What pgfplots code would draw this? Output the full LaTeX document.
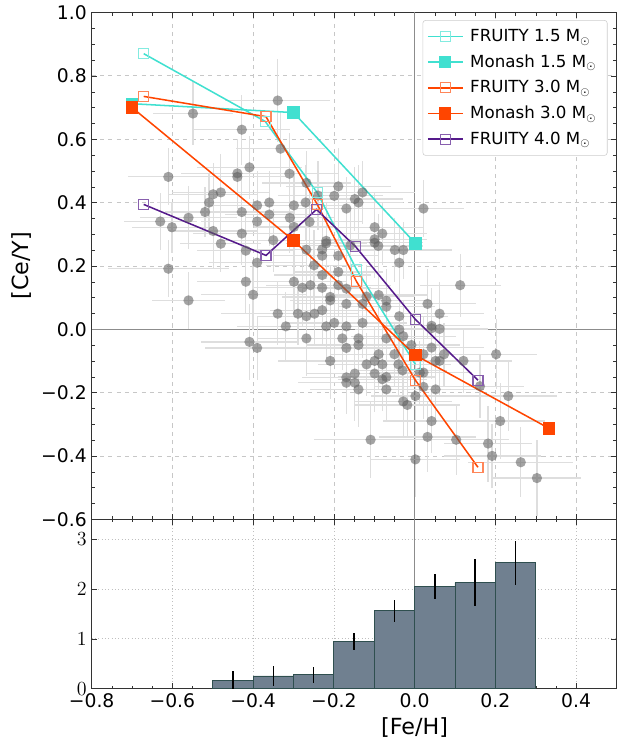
\documentclass[border=0pt]{standalone}
\usepackage{fontspec}
\setmainfont{DejaVu Sans}
\usepackage{pgfplots}
\usepackage{pgfplotstable}
\pgfplotsset{compat=1.18}

\definecolor{turq}{RGB}{64,224,208}
\definecolor{ored}{RGB}{255,69,0}
\definecolor{purp}{RGB}{85,26,139}
\definecolor{slate}{RGB}{112,128,144}
\definecolor{dslate}{RGB}{47,79,79}

% stars: [Fe/H], [Ce/Y] and their errors
\pgfplotstableread{
x y ex ey
-0.339 0.722 0.13 0.13
-0.549 0.681 0.10 0.10
-0.428 0.630 0.12 0.11
-0.332 0.570 0.11 0.12
-0.409 0.511 0.13 0.10
-0.439 0.492 0.14 0.11
-0.439 0.481 0.12 0.10
-0.610 0.481 0.10 0.09
-0.480 0.432 0.12 0.12
-0.499 0.426 0.11 0.10
-0.509 0.400 0.13 0.09
-0.390 0.391 0.12 0.11
-0.360 0.400 0.14 0.10
-0.519 0.370 0.10 0.08
-0.428 0.370 0.13 0.12
-0.360 0.362 0.11 0.10
-0.630 0.340 0.09 0.09
-0.560 0.352 0.12 0.10
-0.601 0.322 0.10 0.08
-0.390 0.340 0.14 0.11
-0.499 0.310 0.11 0.12
-0.428 0.302 0.12 0.10
-0.480 0.270 0.10 0.09
-0.350 0.281 0.13 0.10
-0.418 0.248 0.12 0.11
-0.310 0.491 0.12 0.13
-0.268 0.462 0.11 0.10
-0.189 0.451 0.13 0.12
-0.199 0.421 0.12 0.10
-0.239 0.422 0.10 0.11
-0.148 0.411 0.12 0.10
-0.139 0.400 0.11 0.12
-0.129 0.432 0.13 0.10
-0.299 0.391 0.12 0.11
-0.270 0.400 0.14 0.12
-0.169 0.381 0.12 0.10
-0.309 0.352 0.11 0.11
-0.260 0.339 0.13 0.10
-0.299 0.323 0.10 0.09
-0.099 0.322 0.12 0.11
-0.080 0.302 0.11 0.10
-0.099 0.284 0.13 0.09
-0.099 0.273 0.12 0.11
-0.090 0.263 0.11 0.10
-0.219 0.279 0.12 0.12
-0.219 0.271 0.10 0.10
-0.268 0.251 0.13 0.11
-0.229 0.252 0.11 0.09
-0.229 0.232 0.12 0.12
-0.189 0.232 0.10 0.10
-0.159 0.265 0.12 0.11
-0.049 0.250 0.11 0.10
-0.028 0.250 0.12 0.09
0.022 0.381 0.10 0.09
-0.390 0.210 0.12 0.11
-0.610 0.191 0.15 0.09
-0.418 0.150 0.12 0.10
-0.400 0.109 0.13 0.11
-0.560 0.091 0.09 0.09
-0.339 0.049 0.14 0.10
-0.409 -0.040 0.12 0.12
-0.390 -0.059 0.13 0.10
-0.249 0.202 0.12 0.11
-0.189 0.181 0.11 0.12
-0.229 0.171 0.12 0.10
-0.038 0.210 0.10 0.11
-0.299 0.150 0.13 0.10
-0.278 0.131 0.12 0.12
-0.258 0.139 0.11 0.10
-0.229 0.131 0.12 0.11
-0.189 0.139 0.13 0.10
-0.169 0.128 0.11 0.12
-0.209 0.102 0.12 0.10
-0.209 0.091 0.10 0.11
-0.119 0.103 0.12 0.10
-0.169 0.080 0.13 0.12
-0.129 0.080 0.11 0.10
-0.089 0.108 0.12 0.11
-0.070 0.090 0.11 0.10
-0.070 0.071 0.12 0.12
-0.229 0.060 0.13 0.11
-0.248 0.049 0.11 0.10
-0.268 0.041 0.12 0.12
-0.289 0.049 0.13 0.10
-0.319 0.009 0.12 0.11
-0.219 0.009 0.11 0.10
-0.199 0.020 0.12 0.12
-0.169 0.009 0.13 0.10
-0.129 0.020 0.11 0.11
-0.038 0.041 0.12 0.10
-0.038 -0.001 0.11 0.12
-0.070 -0.029 0.12 0.10
-0.028 -0.022 0.13 0.11
-0.268 -0.029 0.12 0.12
-0.179 -0.029 0.11 0.10
-0.139 -0.029 0.12 0.11
-0.139 -0.050 0.13 0.10
-0.169 -0.059 0.11 0.12
-0.008 -0.050 0.12 0.10
-0.089 -0.079 0.12 0.11
-0.050 -0.079 0.11 0.10
-0.209 -0.100 0.13 0.12
-0.119 -0.111 0.12 0.10
-0.099 -0.100 0.11 0.11
-0.080 -0.111 0.12 0.12
-0.040 -0.111 0.13 0.10
-0.030 -0.130 0.11 0.11
-0.148 -0.140 0.12 0.10
-0.099 -0.140 0.13 0.12
-0.169 -0.152 0.11 0.11
-0.169 -0.169 0.12 0.10
-0.148 -0.169 0.13 0.12
-0.080 -0.158 0.11 0.10
-0.070 -0.151 0.12 0.11
-0.139 -0.190 0.12 0.12
-0.070 -0.190 0.11 0.10
-0.028 -0.228 0.12 0.11
-0.018 -0.239 0.13 0.10
0.002 -0.211 0.11 0.12
0.022 -0.182 0.12 0.10
0.022 -0.137 0.12 0.11
-0.109 -0.349 0.14 0.12
0.032 -0.340 0.12 0.11
0.002 -0.411 0.11 0.12
0.113 0.139 0.10 0.10
0.032 0.080 0.12 0.11
0.062 0.049 0.11 0.10
0.042 0.011 0.12 0.12
0.042 0.003 0.11 0.10
0.062 0.001 0.12 0.11
0.042 -0.058 0.13 0.10
0.022 -0.079 0.12 0.12
0.073 -0.079 0.11 0.10
0.062 -0.100 0.12 0.11
0.052 -0.100 0.11 0.12
0.121 -0.100 0.12 0.10
0.202 -0.079 0.10 0.11
0.013 -0.137 0.12 0.10
0.052 -0.190 0.12 0.11
0.162 -0.180 0.11 0.10
0.232 -0.211 0.12 0.11
0.212 -0.290 0.11 0.12
0.042 -0.290 0.12 0.10
0.103 -0.349 0.13 0.11
0.182 -0.361 0.11 0.12
0.192 -0.400 0.12 0.10
0.263 -0.420 0.13 0.11
0.303 -0.470 0.11 0.12
}\stars

\pgfplotsset{
  common/.style={
    scale only axis, width=378pt,
    xmin=-0.8, xmax=0.5,
    xtick={-0.8,-0.6,-0.4,-0.2,0,0.2,0.4},
    minor x tick num=3,
    tick label style={font=\fontsize{13.5}{16}\selectfont},
    label style={font=\fontsize{16}{19}\selectfont},
    axis line style={black!80}, tick style={black!80},
    major tick length=4pt, minor tick length=2.2pt,
    grid=major,
  },
  leg/.style={legend image code/.code={\draw[mark repeat=2, mark phase=2]
    plot coordinates {(0pt,0pt) (12.5pt,0pt) (25pt,0pt)};}},
  % error bars only: marks made invisible
  ebonly/.style={only marks, mark=*, mark size=0.1pt,
    mark options={draw opacity=0, fill opacity=0}},
}

\begin{document}
\begin{tikzpicture}
\useasboundingbox (-66pt,-37pt) rectangle (379pt,496pt);

\begin{axis}[common,
  at={(0,122pt)}, height=365pt,
  ymin=-0.6, ymax=1.0,
  xticklabels={},
  ytick={-0.6,-0.4,-0.2,0,0.2,0.4,0.6,0.8,1.0},
  yticklabels={−0.6,−0.4,−0.2,0.0,0.2,0.4,0.6,0.8,1.0},
  minor y tick num=3,
  major grid style={dashed, black!22, line width=0.5pt},
  ylabel={[Ce/Y]},
  legend style={at={(0.983,0.985)}, anchor=north east, draw=black!20,
    rounded corners=2pt, font=\fontsize{12}{14}\selectfont,
    row sep=4pt, inner xsep=3pt, inner ysep=4.5pt, cells={anchor=west},
    nodes={inner xsep=5pt}},
]
\addplot[forget plot, black!45, line width=0.8pt] coordinates {(-0.8,0) (0.5,0)};
\addplot[forget plot, black!45, line width=0.8pt] coordinates {(0,-0.6) (0,1.0)};

\addplot[forget plot, ebonly,
  error bars/.cd, x dir=both, x explicit, y dir=both, y explicit,
  error mark=none, error bar style={black!13, line width=0.9pt}]
  table[x=x, y=y, x error=ex, y error=ey] {\stars};
\addplot[forget plot, only marks, mark=*, mark size=3.7pt,
  mark options={fill=black!62, draw opacity=0, fill opacity=0.58}]
  table[x=x, y=y] {\stars};

\addplot[leg, turq, line width=1.1pt, mark=square, mark size=3.6pt,
  mark options={draw=turq!65!white, fill=none, line width=0.9pt}]
  coordinates {(-0.671,0.870) (-0.370,0.656) (-0.241,0.431) (-0.144,0.189) (0.002,-0.111)};
\addlegendentry{FRUITY 1.5 M$_\odot$}
\addplot[leg, turq, line width=1.1pt, mark=square*, mark size=3.9pt,
  mark options={draw=turq, fill=turq}]
  coordinates {(-0.700,0.712) (-0.300,0.684) (0.002,0.271)};
\addlegendentry{Monash 1.5 M$_\odot$}
\addplot[leg, ored, line width=1.1pt, mark=square, mark size=3.6pt,
  mark options={draw=ored!65!white, fill=none, line width=0.9pt}]
  coordinates {(-0.671,0.735) (-0.368,0.671) (-0.241,0.394) (-0.144,0.151) (0.002,-0.161) (0.157,-0.436)};
\addlegendentry{FRUITY 3.0 M$_\odot$}
\addplot[leg, ored, line width=1.1pt, mark=square*, mark size=3.9pt,
  mark options={draw=ored, fill=ored}]
  coordinates {(-0.700,0.700) (-0.300,0.280) (0.002,-0.082) (0.333,-0.313)};
\addlegendentry{Monash 3.0 M$_\odot$}
\addplot[leg, purp, line width=1.1pt, mark=square, mark size=3.6pt,
  mark options={draw=purp!70!white, fill=none, line width=0.9pt}]
  coordinates {(-0.671,0.394) (-0.368,0.233) (-0.243,0.378) (-0.147,0.262) (0.002,0.031) (0.157,-0.161)};
\addlegendentry{FRUITY 4.0 M$_\odot$}
\end{axis}

\begin{axis}[common,
  at={(0,0)}, height=122pt,
  ymin=0, ymax=3.4,
  xticklabels={−0.8,−0.6,−0.4,−0.2,0.0,0.2,0.4},
  ytick={0,1,2,3},
  major grid style={dotted, black!25, line width=0.5pt},
  xlabel={[Fe/H]},
  xlabel style={at={(ticklabel cs:0.6154)}},
]
\addplot[black!45, line width=0.8pt] coordinates {(0,0) (0,3.4)};
\addplot[ybar interval, fill=slate, draw=dslate, line width=0.6pt]
  coordinates {(-0.5,0.17) (-0.4,0.255) (-0.3,0.28) (-0.2,0.94) (-0.1,1.56)
               (0,2.05) (0.1,2.13) (0.2,2.53) (0.3,2.53)};
\addplot[ebonly,
  error bars/.cd, y dir=both, y explicit, error mark=none,
  error bar style={black, line width=1.1pt}]
  coordinates {(-0.45,0.17) +- (0,0.19) (-0.35,0.255) +- (0,0.20)
               (-0.25,0.28) +- (0,0.16) (-0.15,0.94) +- (0,0.17)
               (-0.05,1.56) +- (0,0.22) (0.05,2.05) +- (0,0.26)
               (0.15,2.13) +- (0,0.48) (0.25,2.53) +- (0,0.44)};
\end{axis}
\end{tikzpicture}
\end{document}
